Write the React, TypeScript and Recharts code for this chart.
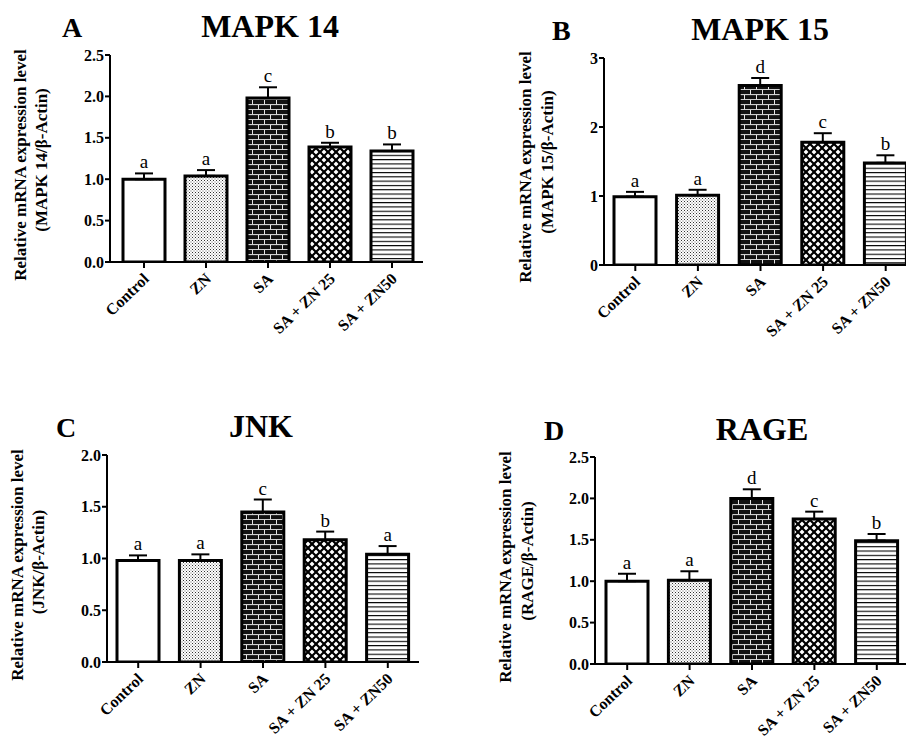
import React from 'react';
import { BarChart, Bar, XAxis, YAxis, ErrorBar, LabelList, Cell } from 'recharts';

const categories = ['Control', 'ZN', 'SA', 'SA + ZN 25', 'SA + ZN50'];

const mapk14Mean = [1.0, 1.04, 1.98, 1.39, 1.34];
const mapk14Err = [0.07, 0.07, 0.13, 0.05, 0.08];
const mapk14Letters = ['a', 'a', 'c', 'b', 'b'];
const mapk14Ticks = [0, 0.5, 1.0, 1.5, 2.0, 2.5];

const mapk15Mean = [0.99, 1.01, 2.6, 1.78, 1.48];
const mapk15Err = [0.07, 0.08, 0.11, 0.13, 0.11];
const mapk15Letters = ['a', 'a', 'd', 'c', 'b'];
const mapk15Ticks = [0, 1, 2, 3];

const jnkMean = [0.98, 0.98, 1.45, 1.18, 1.04];
const jnkErr = [0.05, 0.06, 0.12, 0.08, 0.08];
const jnkLetters = ['a', 'a', 'c', 'b', 'a'];
const jnkTicks = [0, 0.5, 1.0, 1.5, 2.0];

const rageMean = [1.0, 1.01, 2.0, 1.75, 1.49];
const rageErr = [0.09, 0.11, 0.11, 0.09, 0.08];
const rageLetters = ['a', 'a', 'd', 'c', 'b'];
const rageTicks = [0, 0.5, 1.0, 1.5, 2.0, 2.5];

const FONT = '"Liberation Serif", "DejaVu Serif", serif';
const fills = ['#ffffff', 'url(#pStipple)', 'url(#pBrick)', 'url(#pCross)', 'url(#pHoriz)'];

function buildData(mean: number[], err: number[], letters: string[]) {
  return categories.map((c, i) => ({ name: c, mean: mean[i], err: [0, err[i]], e: err[i], letter: letters[i] }));
}

const Patterns = () => (
  <defs>
    <pattern id="pStipple" width="3" height="3" patternUnits="userSpaceOnUse">
      <rect width="3" height="3" fill="#ffffff" />
      <rect x="0" y="0" width="1" height="1" fill="#333" />
      <rect x="1.5" y="1.5" width="1" height="1" fill="#666" />
    </pattern>
    <pattern id="pBrick" width="12" height="10" patternUnits="userSpaceOnUse">
      <rect width="12" height="10" fill="#111" />
      <rect x="0" y="4.2" width="12" height="0.9" fill="#fff" />
      <rect x="0" y="9.2" width="12" height="0.9" fill="#fff" />
      <rect x="0" y="0" width="0.9" height="4.2" fill="#fff" />
      <rect x="6" y="5" width="0.9" height="4.2" fill="#fff" />
    </pattern>
    <pattern id="pCross" width="8" height="8" patternUnits="userSpaceOnUse">
      <rect width="8" height="8" fill="#fff" />
      <path d="M-2,2 L2,-2 M0,8 L8,0 M6,10 L10,6" stroke="#000" strokeWidth="2.2" />
      <path d="M-2,6 L2,10 M0,0 L8,8 M6,-2 L10,2" stroke="#000" strokeWidth="2.2" />
    </pattern>
    <pattern id="pHoriz" width="8" height="4.3" patternUnits="userSpaceOnUse">
      <rect width="8" height="4.3" fill="#fff" />
      <rect x="0" y="0" width="8" height="1.1" fill="#000" />
    </pattern>
  </defs>
);

const XTick = (props: any) => {
  const { x, y, payload } = props;
  return (
    <g transform={`translate(${x + 6},${y + 10})`}>
      <text x={0} y={0} transform="rotate(-44)" textAnchor="end" fontFamily={FONT} fontWeight="bold" fontSize={16} fill="#000">
        {payload.value}
      </text>
    </g>
  );
};

type PanelProps = {
  left: number; top: number; width: number; height: number;
  yAxisWidth: number; marginTop: number; marginRight: number; xAxisHeight: number;
  padLeft: number;
  mean: number[]; err: number[]; letters: string[]; ticks: number[]; decimals: number;
};

const Panel = (p: PanelProps) => {
  const data = buildData(p.mean, p.err, p.letters);
  const max = p.ticks[p.ticks.length - 1];
  const renderLetter = (lp: any) => {
    const { x, y, width, height, value, index } = lp;
    const d = data[index];
    const errPx = d.mean > 0 ? (d.e * height) / d.mean : 0;
    return (
      <text x={x + width / 2} y={y - errPx - 5} textAnchor="middle" fontFamily={FONT} fontSize={19} fill="#000">
        {value}
      </text>
    );
  };
  return (
    <div style={{ position: 'absolute', left: p.left, top: p.top }}>
      <BarChart width={p.width} height={p.height} data={data}
        margin={{ top: p.marginTop, right: p.marginRight, bottom: 0, left: 0 }}>
        <Patterns />
        <XAxis dataKey="name" height={p.xAxisHeight} interval={0} tickSize={6} tickMargin={2}
          padding={{ left: p.padLeft, right: 0 }}
          axisLine={{ stroke: '#000', strokeWidth: 2 }} tickLine={{ stroke: '#000', strokeWidth: 2 }}
          tick={<XTick />} />
        <YAxis width={p.yAxisWidth} domain={[0, max]} ticks={p.ticks} interval={0} tickSize={5} tickMargin={1}
          allowDataOverflow
          axisLine={{ stroke: '#000', strokeWidth: 2 }} tickLine={{ stroke: '#000', strokeWidth: 2 }}
          tickFormatter={(v: number) => v.toFixed(p.decimals)}
          tick={{ fontFamily: FONT, fontWeight: 'bold', fontSize: 16, fill: '#000' }} />
        <Bar dataKey="mean" barSize={42} stroke="#000" strokeWidth={3} isAnimationActive={false}>
          {data.map((_, i) => (
            <Cell key={i} fill={fills[i]} />
          ))}
          <ErrorBar dataKey="err" width={9} stroke="#000" strokeWidth={2} direction="y" isAnimationActive={false} />
          <LabelList dataKey="letter" content={renderLetter} />
        </Bar>
      </BarChart>
    </div>
  );
};

const titleStyle = { fontFamily: FONT, fontWeight: 'bold' as const, fill: '#000' };

const YLab = ({ x1, y1, x2, y2, line2 }: { x1: number; y1: number; x2: number; y2: number; line2: string }) => (
  <g>
    <text x={x1} y={y1} transform={`rotate(-90 ${x1} ${y1})`} textAnchor="middle" dominantBaseline="central"
      fontFamily={FONT} fontWeight="bold" fontSize={17} fill="#000">Relative mRNA expression level</text>
    <text x={x2} y={y2} transform={`rotate(-90 ${x2} ${y2})`} textAnchor="middle" dominantBaseline="central"
      fontFamily={FONT} fontWeight="bold" fontSize={17} fill="#000">{line2}</text>
  </g>
);

export default function App() {
  return (
    <div style={{ position: 'fixed', left: 0, top: 0, width: 906, height: 740, overflow: 'hidden', background: '#fff' }}>
      <Panel left={0} top={0} width={450} height={340} yAxisWidth={110} marginTop={55} marginRight={27} xAxisHeight={78}
        padLeft={3} mean={mapk14Mean} err={mapk14Err} letters={mapk14Letters} ticks={mapk14Ticks} decimals={1} />
      <Panel left={450} top={0} width={470} height={340} yAxisWidth={154} marginTop={58} marginRight={3} xAxisHeight={75}
        padLeft={0} mean={mapk15Mean} err={mapk15Err} letters={mapk15Letters} ticks={mapk15Ticks} decimals={0} />
      <Panel left={0} top={400} width={450} height={340} yAxisWidth={107} marginTop={55} marginRight={31} xAxisHeight={78}
        padLeft={0} mean={jnkMean} err={jnkErr} letters={jnkLetters} ticks={jnkTicks} decimals={1} />
      <Panel left={450} top={400} width={470} height={340} yAxisWidth={145} marginTop={57} marginRight={12} xAxisHeight={76}
        padLeft={1} mean={rageMean} err={rageErr} letters={rageLetters} ticks={rageTicks} decimals={1} />
      <svg width={906} height={740} style={{ position: 'absolute', left: 0, top: 0, pointerEvents: 'none' }}>
        <text x={62} y={37} fontSize={28} {...titleStyle}>A</text>
        <text x={270} y={37} fontSize={32} textAnchor="middle" {...titleStyle}>MAPK 14</text>
        <text x={552} y={40} fontSize={28} {...titleStyle}>B</text>
        <text x={760} y={40} fontSize={32} textAnchor="middle" {...titleStyle}>MAPK 15</text>
        <text x={56} y={437} fontSize={28} {...titleStyle}>C</text>
        <text x={261} y={437} fontSize={32} textAnchor="middle" {...titleStyle}>JNK</text>
        <text x={544} y={440} fontSize={28} {...titleStyle}>D</text>
        <text x={762} y={440} fontSize={32} textAnchor="middle" {...titleStyle}>RAGE</text>
        <YLab x1={20.5} y1={165} x2={41.5} y2={160} line2="(MAPK 14/β-Actin)" />
        <YLab x1={525} y1={167} x2={547} y2={162} line2="(MAPK 15/β-Actin)" />
        <YLab x1={17} y1={565} x2={38} y2={562} line2="(JNK/β-Actin)" />
        <YLab x1={505} y1={567} x2={527} y2={561} line2="(RAGE/β-Actin)" />
      </svg>
    </div>
  );
}
